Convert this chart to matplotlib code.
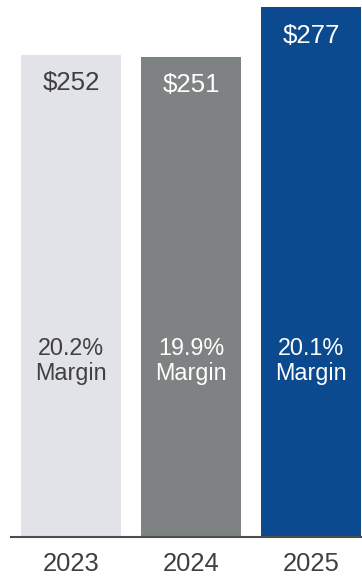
import matplotlib.pyplot as plt

years = ["2023", "2024", "2025"]
values = [252, 251, 277]
value_labels = ["$252", "$251", "$277"]
margins = ["20.2%", "19.9%", "20.1%"]
colors = ["#e1e3e8", "#7f8282", "#0b4a8e"]
text_colors = ["#404040", "white", "white"]

plt.rcParams['font.family'] = ['Liberation Sans', 'DejaVu Sans']

fig = plt.figure(figsize=(3.62, 5.77), dpi=100)
ax = fig.add_axes([11 / 362, 40 / 577, 351 / 362, 537 / 577])

x = range(len(years))
ax.bar(x, values, width=0.833, color=colors)
ax.set_xlim(-0.5, 2.425)
ax.set_ylim(0, 280.7)

for i, v in enumerate(values):
    ax.annotate(value_labels[i], (i, v), xytext=(0, -20.5), textcoords='offset points',
                ha='center', va='center', fontsize=18.6, color=text_colors[i])
    ax.text(i, 92.0, margins[i] + "\nMargin", ha='center', va='center',
            fontsize=16.8, color=text_colors[i], linespacing=1.12)

ax.set_xticks(list(x))
ax.set_xticklabels(years, fontsize=18.4, color="#404040")
ax.tick_params(axis='x', length=0, pad=11)
ax.set_yticks([])
for s in ['top', 'right', 'left']:
    ax.spines[s].set_visible(False)
ax.spines['bottom'].set_linewidth(1.5)
ax.spines['bottom'].set_color('#4d4d4d')

fig.savefig("out.png", dpi=100)
